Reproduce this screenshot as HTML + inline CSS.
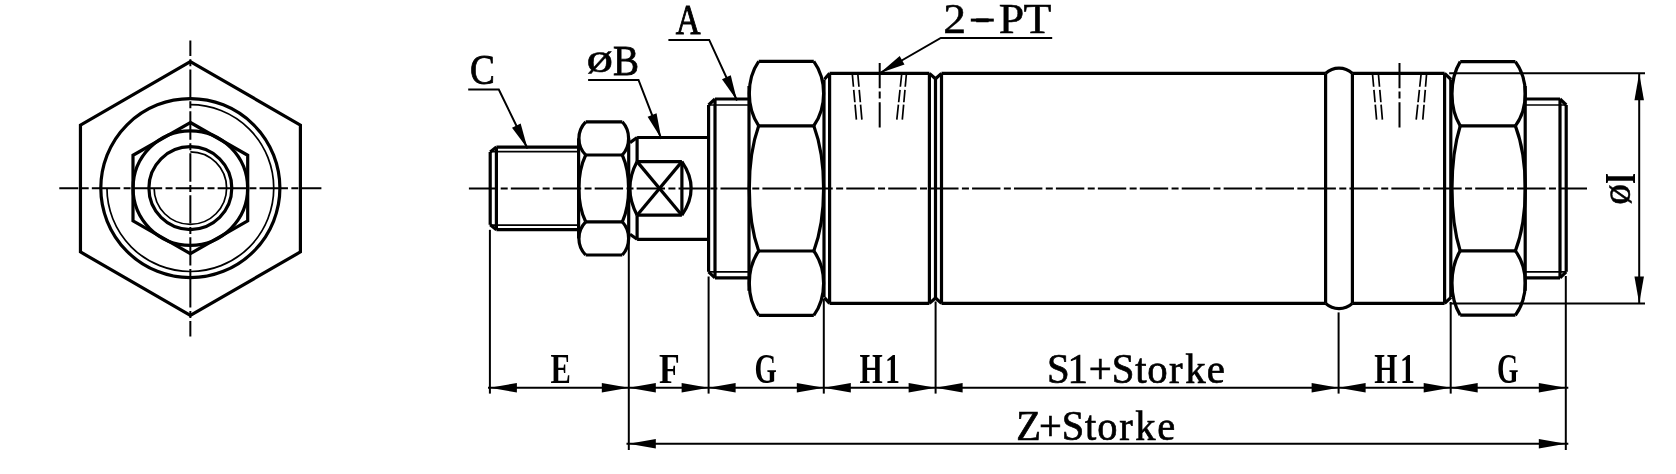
<!DOCTYPE html>
<html><head><meta charset="utf-8"><title>Cylinder drawing</title>
<style>
html,body{margin:0;padding:0;background:#fff;}
svg{display:block;filter:grayscale(1);}
text{font-family:"Liberation Serif",serif;fill:#000;}
</style></head>
<body>
<svg width="1676" height="474" viewBox="0 0 1676 474">
<rect width="1676" height="474" fill="#fff"/>
<g fill="none" stroke="#000" stroke-linecap="butt" stroke-linejoin="miter">
<polygon points="190.35,61.6 300.4,125.05 300.4,251.95 190.35,315.4 80.45,251.95 80.45,125.05" stroke-width="3.2"/>
<circle cx="190.35" cy="188.1" r="89.55" stroke-width="3.2"/>
<path d="M190.35,104.7 A83.4,83.4 0 1 1 106.95,188.1" stroke-width="1.7" />
<polygon points="190.35,122.5 247.7,155.3 247.7,220.9 190.35,253.7 133.0,220.9 133.0,155.3" stroke-width="3.2"/>
<circle cx="190.35" cy="188.1" r="57.3" stroke-width="3.2"/>
<circle cx="190.35" cy="188.1" r="41.45" stroke-width="3.2"/>
<path d="M190.35,151.85 A36.25,36.25 0 1 1 154.1,188.1" stroke-width="1.7" />
<line x1="59.3" y1="188.3" x2="321.4" y2="188.3" stroke-width="2.0" stroke-dasharray="28.4 3.4 7 3.13" stroke-dashoffset="9.4"/>
<line x1="190.35" y1="40.5" x2="190.35" y2="336.5" stroke-width="2.0" stroke-dasharray="28.4 3.4 7 3.13" stroke-dashoffset="13"/>
<line x1="468.9" y1="188.4" x2="1587" y2="188.4" stroke-width="2.0" stroke-dasharray="28.4 3.4 7 3.13"/>
<line x1="496.4" y1="147.1" x2="578.6" y2="147.1" stroke-width="3.2" />
<line x1="496.4" y1="229.7" x2="578.6" y2="229.7" stroke-width="3.2" />
<line x1="490.2" y1="152" x2="496.4" y2="147.1" stroke-width="3.2" />
<line x1="490.2" y1="224.8" x2="496.4" y2="229.7" stroke-width="3.2" />
<line x1="490.2" y1="151.6" x2="578.6" y2="151.6" stroke-width="1.7" />
<line x1="490.2" y1="225.2" x2="578.6" y2="225.2" stroke-width="1.7" />
<line x1="490.2" y1="152" x2="490.2" y2="224.8" stroke-width="3.2" />
<line x1="496.4" y1="147.1" x2="496.4" y2="229.7" stroke-width="3.2" />
<line x1="585.7" y1="121.8" x2="622.3" y2="121.8" stroke-width="3.2" />
<line x1="585.7" y1="255" x2="622.3" y2="255" stroke-width="3.2" />
<line x1="585.7" y1="155" x2="622.3" y2="155" stroke-width="3.2" />
<line x1="585.7" y1="221.8" x2="622.3" y2="221.8" stroke-width="3.2" />
<path d="M585.7,121.8 C576.63,131.1 576.63,145.7 585.7,155" stroke-width="3.2" />
<path d="M622.3,121.8 C630.7,131.1 630.7,145.7 622.3,155" stroke-width="3.2" />
<path d="M585.7,155 C576.63,173.7 576.63,203.1 585.7,221.8" stroke-width="3.2" />
<path d="M622.3,155 C630.7,173.7 630.7,203.1 622.3,221.8" stroke-width="3.2" />
<path d="M585.7,221.8 C576.63,231.1 576.63,245.7 585.7,255" stroke-width="3.2" />
<path d="M622.3,221.8 C630.7,231.1 630.7,245.7 622.3,255" stroke-width="3.2" />
<line x1="578.6" y1="138.4" x2="578.6" y2="238.4" stroke-width="3.2" />
<line x1="628.7" y1="138.4" x2="628.7" y2="238.4" stroke-width="3.2" />
<line x1="637.1" y1="137.5" x2="708.5" y2="137.5" stroke-width="3.2" />
<line x1="637.1" y1="239.3" x2="708.5" y2="239.3" stroke-width="3.2" />
<line x1="630" y1="142.6" x2="637.1" y2="137.5" stroke-width="3.2" />
<line x1="630" y1="234.2" x2="637.1" y2="239.3" stroke-width="3.2" />
<line x1="637.1" y1="137.5" x2="637.1" y2="161.6" stroke-width="3.2" />
<line x1="637.1" y1="239.3" x2="637.1" y2="215.2" stroke-width="3.2" />
<line x1="637.1" y1="161.6" x2="681.9" y2="161.6" stroke-width="3.2" />
<line x1="637.1" y1="215.2" x2="681.9" y2="215.2" stroke-width="3.2" />
<line x1="681.9" y1="161.6" x2="681.9" y2="215.2" stroke-width="3.2" />
<line x1="637.1" y1="161.6" x2="681.9" y2="215.2" stroke-width="3.2" />
<line x1="637.1" y1="215.2" x2="681.9" y2="161.6" stroke-width="3.2" />
<path d="M681.9,161.6 Q700.4,188.4 681.9,215.2" stroke-width="3.2" />
<path d="M637.1,161.6 Q622.7,188.4 637.1,215.2" stroke-width="3.2" />
<line x1="715" y1="99" x2="749" y2="99" stroke-width="3.2" />
<line x1="715" y1="277.8" x2="749" y2="277.8" stroke-width="3.2" />
<line x1="708.6" y1="105" x2="715" y2="99" stroke-width="3.2" />
<line x1="708.6" y1="271.8" x2="715" y2="277.8" stroke-width="3.2" />
<line x1="708.6" y1="105" x2="749" y2="105" stroke-width="1.7" />
<line x1="708.6" y1="271.8" x2="749" y2="271.8" stroke-width="1.7" />
<line x1="708.6" y1="105" x2="708.6" y2="271.8" stroke-width="3.2" />
<line x1="715" y1="99.3" x2="715" y2="277.5" stroke-width="3.2" />
<line x1="758.7" y1="61.4" x2="813.8" y2="61.4" stroke-width="3.2" />
<line x1="758.7" y1="315.4" x2="813.8" y2="315.4" stroke-width="3.2" />
<line x1="758.7" y1="125.8" x2="813.8" y2="125.8" stroke-width="3.2" />
<line x1="758.7" y1="251" x2="813.8" y2="251" stroke-width="3.2" />
<path d="M758.7,61.4 C746.17,79.43 746.17,107.77 758.7,125.8" stroke-width="3.2" />
<path d="M813.8,61.4 C826.87,79.43 826.87,107.77 813.8,125.8" stroke-width="3.2" />
<path d="M758.7,125.8 C746.17,160.86 746.17,215.94 758.7,251" stroke-width="3.2" />
<path d="M813.8,125.8 C826.87,160.86 826.87,215.94 813.8,251" stroke-width="3.2" />
<path d="M758.7,251 C746.17,269.03 746.17,297.37 758.7,315.4" stroke-width="3.2" />
<path d="M813.8,251 C826.87,269.03 826.87,297.37 813.8,315.4" stroke-width="3.2" />
<line x1="749" y1="86" x2="749" y2="290.8" stroke-width="3.2" />
<line x1="824" y1="79.5" x2="824" y2="297.3" stroke-width="3.2" />
<line x1="829.6" y1="73.4" x2="929.4" y2="73.4" stroke-width="3.2" />
<line x1="829.6" y1="303.4" x2="929.4" y2="303.4" stroke-width="3.2" />
<line x1="824.4" y1="79.2" x2="829.6" y2="73.4" stroke-width="3.2" />
<line x1="824.4" y1="297.6" x2="829.6" y2="303.4" stroke-width="3.2" />
<line x1="829.6" y1="73.4" x2="829.6" y2="303.4" stroke-width="3.2" />
<line x1="929.4" y1="73.4" x2="935.5" y2="78.8" stroke-width="3.2" />
<line x1="929.4" y1="303.4" x2="935.5" y2="298" stroke-width="3.2" />
<line x1="935.5" y1="78.8" x2="941.5" y2="73.4" stroke-width="3.2" />
<line x1="935.5" y1="298" x2="941.5" y2="303.4" stroke-width="3.2" />
<line x1="929.4" y1="73.4" x2="929.4" y2="303.4" stroke-width="3.2" />
<line x1="935.5" y1="78.8" x2="935.5" y2="298" stroke-width="3.2" />
<line x1="941.5" y1="73.4" x2="941.5" y2="303.4" stroke-width="3.2" />
<line x1="941.5" y1="73.4" x2="1325.6" y2="73.4" stroke-width="3.2" />
<line x1="941.5" y1="303.4" x2="1325.6" y2="303.4" stroke-width="3.2" />
<line x1="1325.6" y1="73.4" x2="1325.6" y2="303.4" stroke-width="3.2" />
<line x1="1352.4" y1="73.4" x2="1352.4" y2="303.4" stroke-width="3.2" />
<path d="M1325.6,73.4 A19.9,19.9 0 0 1 1352.4,73.4" stroke-width="3.2" />
<path d="M1325.6,303.4 A19.9,19.9 0 0 0 1352.4,303.4" stroke-width="3.2" />
<line x1="1352.4" y1="73.4" x2="1444.6" y2="73.4" stroke-width="3.2" />
<line x1="1352.4" y1="303.4" x2="1444.6" y2="303.4" stroke-width="3.2" />
<line x1="1444.6" y1="73.4" x2="1444.6" y2="303.4" stroke-width="3.2" />
<line x1="1444.6" y1="73.4" x2="1451" y2="79.5" stroke-width="3.2" />
<line x1="1444.6" y1="303.4" x2="1451" y2="297.3" stroke-width="3.2" />
<line x1="1460.2" y1="61.6" x2="1515.4" y2="61.6" stroke-width="3.2" />
<line x1="1460.2" y1="315.2" x2="1515.4" y2="315.2" stroke-width="3.2" />
<line x1="1460.2" y1="125.9" x2="1515.4" y2="125.9" stroke-width="3.2" />
<line x1="1460.2" y1="250.9" x2="1515.4" y2="250.9" stroke-width="3.2" />
<path d="M1460.2,61.6 C1449.27,79.6 1449.27,107.9 1460.2,125.9" stroke-width="3.2" />
<path d="M1515.4,61.6 C1528.6,79.6 1528.6,107.9 1515.4,125.9" stroke-width="3.2" />
<path d="M1460.2,125.9 C1449.27,160.9 1449.27,215.9 1460.2,250.9" stroke-width="3.2" />
<path d="M1515.4,125.9 C1528.6,160.9 1528.6,215.9 1515.4,250.9" stroke-width="3.2" />
<path d="M1460.2,250.9 C1449.27,268.9 1449.27,297.2 1460.2,315.2" stroke-width="3.2" />
<path d="M1515.4,250.9 C1528.6,268.9 1528.6,297.2 1515.4,315.2" stroke-width="3.2" />
<line x1="1450.8" y1="79.5" x2="1450.8" y2="297.3" stroke-width="3.2" />
<line x1="1525.2" y1="86" x2="1525.2" y2="290.8" stroke-width="3.2" />
<line x1="1525.2" y1="99" x2="1560" y2="99" stroke-width="3.2" />
<line x1="1525.2" y1="277.8" x2="1560" y2="277.8" stroke-width="3.2" />
<line x1="1560" y1="99" x2="1566.2" y2="105" stroke-width="3.2" />
<line x1="1560" y1="277.8" x2="1566.2" y2="271.8" stroke-width="3.2" />
<line x1="1525.2" y1="105" x2="1566.2" y2="105" stroke-width="1.7" />
<line x1="1525.2" y1="271.8" x2="1566.2" y2="271.8" stroke-width="1.7" />
<line x1="1560" y1="99" x2="1560" y2="277.8" stroke-width="3.2" />
<line x1="1566.2" y1="105" x2="1566.2" y2="271.8" stroke-width="3.2" />
<line x1="879.7" y1="63" x2="879.7" y2="128.6" stroke-width="2.0" stroke-dasharray="25.3 3.1 7 3.9"/>
<line x1="852.4" y1="75" x2="856.4" y2="119.6" stroke-width="1.7" stroke-dasharray="11.8 3.1 12.5 2.4 20"/>
<line x1="857.9" y1="75" x2="861.9" y2="119.6" stroke-width="1.7" stroke-dasharray="11.8 3.1 12.5 2.4 20"/>
<line x1="901.6" y1="75" x2="896.8" y2="119.6" stroke-width="1.7" stroke-dasharray="11.8 3.1 12.5 2.4 20"/>
<line x1="906.3" y1="75" x2="902.3" y2="119.6" stroke-width="1.7" stroke-dasharray="11.8 3.1 12.5 2.4 20"/>
<line x1="1399.5" y1="63" x2="1399.5" y2="128.6" stroke-width="2.0" stroke-dasharray="25.3 3.1 7 3.9"/>
<line x1="1372.6" y1="75" x2="1376.6" y2="119.6" stroke-width="1.7" stroke-dasharray="11.8 3.1 12.5 2.4 20"/>
<line x1="1378.5" y1="75" x2="1382.4" y2="119.6" stroke-width="1.7" stroke-dasharray="11.8 3.1 12.5 2.4 20"/>
<line x1="1421" y1="75" x2="1416.2" y2="119.6" stroke-width="1.7" stroke-dasharray="11.8 3.1 12.5 2.4 20"/>
<line x1="1426.5" y1="75" x2="1422.8" y2="119.6" stroke-width="1.7" stroke-dasharray="11.8 3.1 12.5 2.4 20"/>
<line x1="489.9" y1="229.8" x2="489.9" y2="393.6" stroke-width="2.0" />
<line x1="628.8" y1="238" x2="628.8" y2="450" stroke-width="2.0" />
<line x1="708.6" y1="276.5" x2="708.6" y2="393.6" stroke-width="2.0" />
<line x1="823.8" y1="299" x2="823.8" y2="393.6" stroke-width="2.0" />
<line x1="935.6" y1="301.5" x2="935.6" y2="393.6" stroke-width="2.0" />
<line x1="1338.6" y1="312.4" x2="1338.6" y2="393.6" stroke-width="2.0" />
<line x1="1450.7" y1="302" x2="1450.7" y2="393.6" stroke-width="2.0" />
<line x1="1565.8" y1="276" x2="1565.8" y2="450" stroke-width="2.0" />
<line x1="488" y1="387.7" x2="1568.3" y2="387.7" stroke-width="2.0" />
<line x1="626.5" y1="443.8" x2="1568.3" y2="443.8" stroke-width="2.0" />
<polygon points="489.9,387.7 516.9,392.45 516.9,382.95" fill="#000" stroke="none"/>
<polygon points="628.8,387.7 601.8,382.95 601.8,392.45" fill="#000" stroke="none"/>
<polygon points="628.8,387.7 655.8,392.45 655.8,382.95" fill="#000" stroke="none"/>
<polygon points="708.6,387.7 681.6,382.95 681.6,392.45" fill="#000" stroke="none"/>
<polygon points="708.6,387.7 735.6,392.45 735.6,382.95" fill="#000" stroke="none"/>
<polygon points="823.8,387.7 796.8,382.95 796.8,392.45" fill="#000" stroke="none"/>
<polygon points="823.8,387.7 850.8,392.45 850.8,382.95" fill="#000" stroke="none"/>
<polygon points="935.6,387.7 908.6,382.95 908.6,392.45" fill="#000" stroke="none"/>
<polygon points="935.6,387.7 962.6,392.45 962.6,382.95" fill="#000" stroke="none"/>
<polygon points="1338.6,387.7 1311.6,382.95 1311.6,392.45" fill="#000" stroke="none"/>
<polygon points="1338.6,387.7 1365.6,392.45 1365.6,382.95" fill="#000" stroke="none"/>
<polygon points="1450.7,387.7 1423.7,382.95 1423.7,392.45" fill="#000" stroke="none"/>
<polygon points="1450.7,387.7 1477.7,392.45 1477.7,382.95" fill="#000" stroke="none"/>
<polygon points="1565.8,387.7 1538.8,382.95 1538.8,392.45" fill="#000" stroke="none"/>
<polygon points="628.8,443.8 655.8,448.55 655.8,439.05" fill="#000" stroke="none"/>
<polygon points="1565.8,443.8 1538.8,439.05 1538.8,448.55" fill="#000" stroke="none"/>
<line x1="1449.2" y1="73.2" x2="1645" y2="73.2" stroke-width="2.0" />
<line x1="1449.7" y1="303.4" x2="1645" y2="303.4" stroke-width="2.0" />
<line x1="1639.2" y1="73.2" x2="1639.2" y2="303.4" stroke-width="2.0" />
<polygon points="1639.2,73.2 1634.45,100.2 1643.95,100.2" fill="#000" stroke="none"/>
<polygon points="1639.2,303.4 1643.95,276.4 1634.45,276.4" fill="#000" stroke="none"/>
<path d="M468.2,89.5 L498.8,89.5 L527.5,148.5" stroke-width="2.0" />
<polygon points="527.5,148.5 520.66,123.47 512.03,127.67" fill="#000" stroke="none"/>
<path d="M588.1,79.9 L638.5,79.9 L661.3,138.8" stroke-width="2.0" />
<polygon points="661.3,138.8 656.57,113.29 647.62,116.75" fill="#000" stroke="none"/>
<path d="M668.4,39.9 L709.2,39.9 L737,100.5" stroke-width="2.0" />
<polygon points="737,100.5 730.73,75.32 722,79.32" fill="#000" stroke="none"/>
<path d="M1052.2,38 L940.8,38 L880,73" stroke-width="2.0" />
<polygon points="880,73 904.49,64.44 899.71,56.12" fill="#000" stroke="none"/>
<rect x="970.8" y="18.6" width="23" height="3" fill="#000" stroke="none"/>
</g>
<g>
<text transform="translate(0,383.4) scale(0.7155,1)" x="769.25" font-size="42.7" font-weight="bold">E</text>
<text transform="translate(0,383.4) scale(0.7935,1)" x="830.39" font-size="42.7" font-weight="bold">F</text>
<text transform="translate(0,383.4) scale(0.6715,1)" x="1123.73" font-size="42.7" font-weight="bold">G</text>
<text transform="translate(0,383.4) scale(0.6992,1)" x="1229.23 1265.89" font-size="42.7" font-weight="bold">H1</text>
<text transform="translate(0,383.4) scale(0.9562,1)" x="1094.86 1116.32 1138.54 1162.62 1187.25 1199.85 1222.53 1239.55 1261.93" font-size="42.7" font-weight="normal" stroke="#000" stroke-width="0.7">S1+Storke</text>
<text transform="translate(0,383.4) scale(0.6992,1)" x="1965.49 2002.15" font-size="42.7" font-weight="bold">H1</text>
<text transform="translate(0,383.4) scale(0.6481,1)" x="2309.98" font-size="42.7" font-weight="bold">G</text>
<text transform="translate(0,439.8) scale(0.9473,1)" x="1072.75 1096.75 1120.75 1145.49 1158.26 1181.49 1198.44 1221.65" font-size="42.7" font-weight="normal" stroke="#000" stroke-width="0.7">Z+Storke</text>
<text transform="translate(0,83.9) scale(0.8840,1)" x="531.55" font-size="42.2" font-weight="normal" stroke="#000" stroke-width="0.8">C</text>
<text transform="translate(586.5,71.9) scale(1.3,1)" font-size="41" stroke="#000" stroke-width="0.5">ø</text>
<text transform="translate(0,74.7) scale(0.9478,1)" x="646.83" font-size="41.2" font-weight="normal" stroke="#000" stroke-width="0.8">B</text>
<text transform="translate(0,33.9) scale(0.8039,1)" x="840.73" font-size="42.7" font-weight="normal" stroke="#000" stroke-width="1.0">A</text>
<text transform="translate(0,32.7) scale(1.1000,1)" x="857.4 886.07 907.92 930.53" y="0 -2.8 0 0" font-size="41.5" font-weight="normal" stroke="#000" stroke-width="0.5">2-PT</text>
<text transform="translate(1630.35,204.8) rotate(-90) scale(1.012,1)" font-size="41" stroke="#000" stroke-width="0.5">ø</text>
<text transform="translate(1634.6,183.96) rotate(-90) scale(0.65,1)" font-size="43.5" font-weight="bold">I</text>
</g>
</svg>
</body></html>
